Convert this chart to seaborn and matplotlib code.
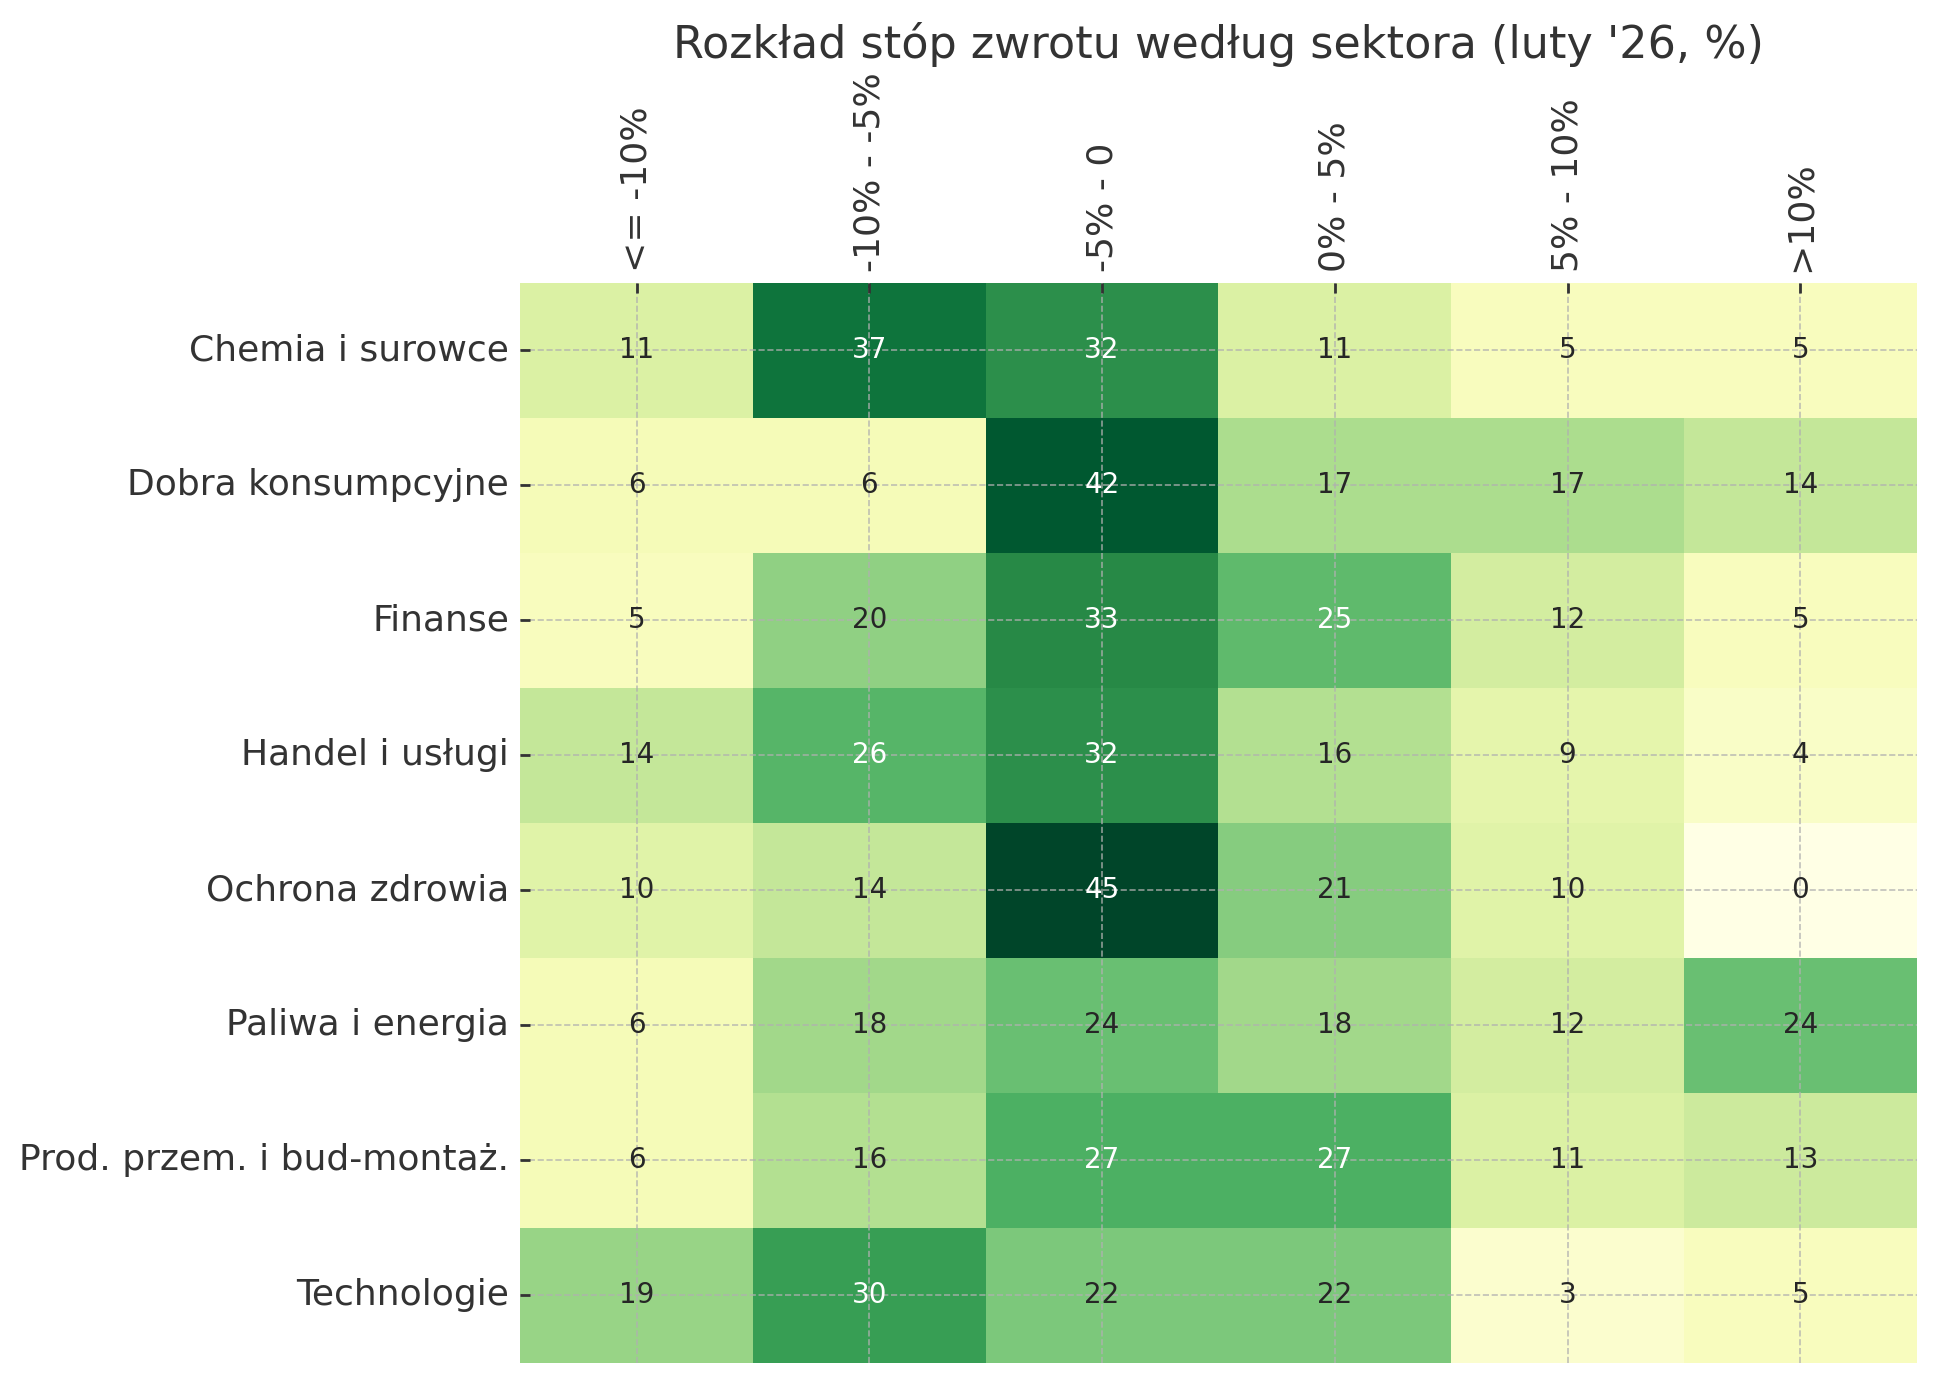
import numpy as np
import pandas as pd
import matplotlib
matplotlib.use('Agg')
import matplotlib.pyplot as plt
import seaborn as sns

BUCKETS = ['<= -10%', '-10% - -5%', '-5% - 0', '0% - 5%', '5% - 10%', '>10%']
SECTORS = ['Chemia i surowce', 'Dobra konsumpcyjne', 'Finanse',
           'Handel i usługi', 'Ochrona zdrowia', 'Paliwa i energia',
           'Prod. przem. i bud-montaż.', 'Technologie']

chemia = [11, 37, 32, 11, 5, 5]
dobra = [6, 6, 42, 17, 17, 14]
finanse = [5, 20, 33, 25, 12, 5]
handel = [14, 26, 32, 16, 9, 4]
zdrowie = [10, 14, 45, 21, 10, 0]
paliwa = [6, 18, 24, 18, 12, 24]
prod = [6, 16, 27, 27, 11, 13]
tech = [19, 30, 22, 22, 3, 5]


def build_table():
    """
    Stacks the per-sector rows into one frame for the heatmap.
    """
    rows = [chemia, dobra, finanse, handel, zdrowie, paliwa, prod, tech]
    return pd.DataFrame(np.array(rows), index=SECTORS, columns=BUCKETS)


def plot_heatmap(table):
    plt.rcParams['font.family'] = ['DejaVu Sans']
    plt.rcParams['text.color'] = '#333333'
    plt.rcParams['xtick.color'] = '#333333'
    plt.rcParams['ytick.color'] = '#333333'

    fig, ax = plt.subplots(figsize=(9.67, 6.9), dpi=200)
    sns.heatmap(table, cmap='YlGn', annot=True, fmt='d', cbar=False,
                annot_kws={'fontsize': 10}, ax=ax)

    ax.xaxis.tick_top()
    ax.xaxis.set_label_position('top')
    ax.set_xticklabels(BUCKETS, rotation=90, fontsize=13)
    ax.set_yticklabels(SECTORS, rotation=0, fontsize=13)
    ax.tick_params(axis='both', direction='in', length=3.5, width=1,
                   color='#333333', pad=4)
    ax.grid(True, linestyle='--', color='#b0b0b0', linewidth=0.6, alpha=0.8)
    ax.set_axisbelow(False)
    ax.set_xlabel('')
    ax.set_ylabel('')
    ax.set_title("Rozkład stóp zwrotu według sektora (luty '26, %)",
                 fontsize=16, pad=5)

    plt.subplots_adjust(left=0.269, right=0.991, top=0.795, bottom=0.0125)
    fig.savefig('out.png', dpi=200)


def main():
    plot_heatmap(build_table())


if __name__ == '__main__':
    main()
